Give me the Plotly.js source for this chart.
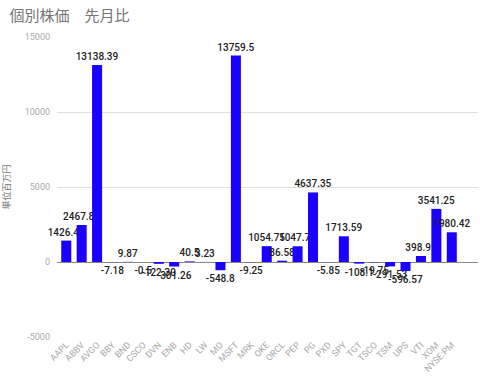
<!DOCTYPE html>
<html><head><meta charset="utf-8">
<script src="https://cdn.plot.ly/plotly-3.0.1.min.js"></script>
<style>body{margin:0;background:#fff}#c{width:480px;height:381px}</style>
</head><body><div id="c"></div>
<script>
const categories = ["AAPL","ABBV","AVGO","BBY","BND","CSCO","DVN","ENB","HD","LW","MO","MSFT","MRK","OKE","ORCL","PEP","PG","PXD","SPY","TGT","TSCO","TSM","UPS","VTI","XOM","NYSE:PM"];
const values = [1426.46,2467.87,13138.39,-7.18,9.87,-0.5,-122.3,-301.26,40.5,3.23,-548.8,13759.5,-9.25,1054.75,86.58,1047.79,4637.35,-5.85,1713.59,-108.1,-19.75,-291.53,-596.57,398.91,3541.25,1980.42];
const labels = ["1426.46","2467.87","13138.39","-7.18","9.87","-0.5","-122.30","-301.26","40.5","3.23","-548.8","13759.5","-9.25","1054.75","86.58","1047.79","4637.35","-5.85","1713.59","-108.1","-19.75","-291.53","-596.57","398.91","3541.25","1980.42"];
const yTicks = [-5000,0,5000,10000,15000];

Plotly.newPlot('c',[{
  type:'bar', x:categories, y:values, text:labels,
  textposition:'outside', constraintext:'none', cliponaxis:false,
  textfont:{family:'Roboto',size:10,color:'#222',weight:500},
  marker:{color:'#1a00ff'}, hoverinfo:'none'
}],{
  width:480,height:381,
  margin:{l:57,r:2,t:37,b:44},
  paper_bgcolor:'#fff',plot_bgcolor:'#fff',
  bargap:0.35,
  showlegend:false,
  title:{text:'個別株価　先月比',x:0.02,xanchor:'left',y:0.972,yanchor:'top',font:{family:'Noto Sans CJK JP',size:15,color:'#757575'}},
  xaxis:{range:[-0.6,26.7],tickangle:-45,tickfont:{family:'Roboto',size:9,color:'#aaa'},showgrid:false,ticks:'',fixedrange:true},
  yaxis:{range:[-5000,15000],tickvals:yTicks,ticktext:yTicks.map(String),
    tickfont:{family:'Roboto',size:9,color:'#aaa'},gridcolor:'#e0e0e0',
    zeroline:true,zerolinecolor:'#888',zerolinewidth:1,ticks:'',ticklabelstandoff:6,
    title:{text:'単位百万円',standoff:12,font:{family:'Noto Sans CJK JP',size:9,color:'#777'}}}
},{displayModeBar:false,staticPlot:true});
</script></body></html>
